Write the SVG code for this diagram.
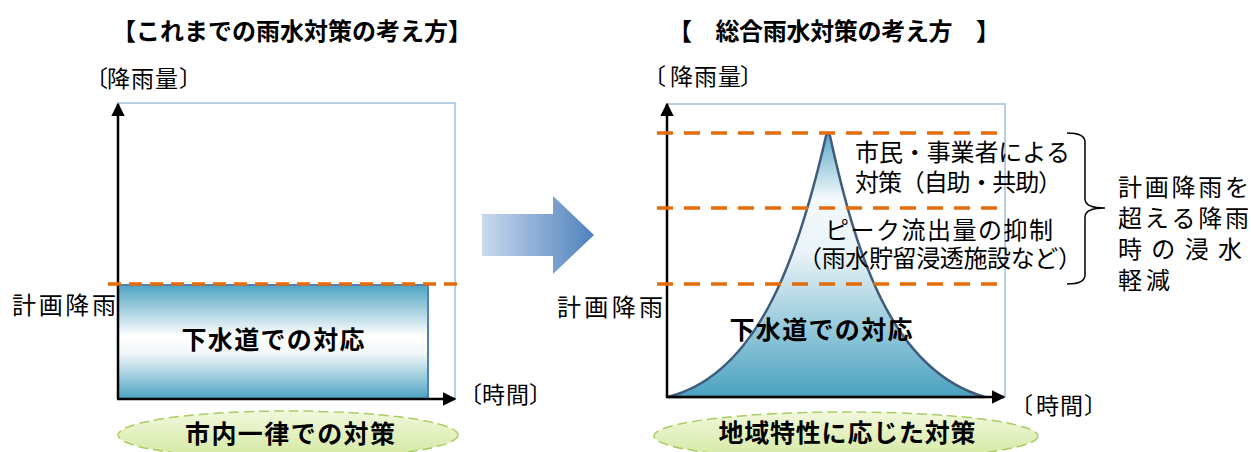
<svg xmlns="http://www.w3.org/2000/svg" width="1251" height="452" viewBox="0 0 1251 452">
<style>
text{font-family:"Liberation Sans","Noto Sans CJK JP",sans-serif;fill:#000;text-spacing-trim:space-all;font-kerning:none;font-feature-settings:"halt" 0,"chws" 0}
.t{font-size:24px;font-weight:bold}
.n{font-size:24px}
.s{font-size:23px}
.b{font-size:25px;font-weight:bold}
.frame{fill:none;stroke:#b9cde5;stroke-width:2}
.axis{stroke:#000;stroke-width:2.5;fill:none}
.dash{stroke:#e46c0a;stroke-width:3.5;fill:none}
.ell{fill:url(#gGreen);stroke:#a9cd62;stroke-width:1.5;stroke-dasharray:10 5}
</style>
<defs>
<linearGradient id="gBox" x1="0" y1="0" x2="0" y2="1">
<stop offset="0" stop-color="#4fa4c2"/>
<stop offset="0.45" stop-color="#ffffff"/>
<stop offset="0.6" stop-color="#f2f7fa"/>
<stop offset="1" stop-color="#4aa2c0"/>
</linearGradient>
<linearGradient id="gPeak" x1="0" y1="133" x2="0" y2="397" gradientUnits="userSpaceOnUse">
<stop offset="0" stop-color="#5aa9c8"/>
<stop offset="0.25" stop-color="#f4f9fc"/>
<stop offset="0.45" stop-color="#eaf4f8"/>
<stop offset="1" stop-color="#4aa2c0"/>
</linearGradient>
<linearGradient id="gArrow" x1="0" y1="0" x2="1" y2="0">
<stop offset="0" stop-color="#c9d9ee"/>
<stop offset="1" stop-color="#4f81bd"/>
</linearGradient>
<linearGradient id="gGreen" x1="0" y1="0" x2="0" y2="1">
<stop offset="0" stop-color="#f1f8dc"/>
<stop offset="1" stop-color="#d3e8a0"/>
</linearGradient>
<marker id="ah" viewBox="0 0 10 10" refX="9" refY="5" markerWidth="5.5" markerHeight="5.5" orient="auto" markerUnits="strokeWidth">
<path d="M0,0 L10,5 L0,10 z" fill="#000"/>
</marker>
</defs>

<g id="titles">
<text class="t" x="112" y="40" textLength="360">【これまでの雨水対策の考え方】</text>
<text class="t" x="668" y="40" textLength="332">【　総合雨水対策の考え方　】</text>
</g>

<g id="left-panel">
<text class="s" x="85 107 131 155 179" y="87">〔降雨量〕</text>
<rect class="frame" x="118" y="103" width="337" height="296"/>
<rect x="118" y="285" width="310" height="114" fill="url(#gBox)" stroke="#4f81bd" stroke-width="2"/>
<text class="b" x="273" y="349" text-anchor="middle" textLength="183">下水道での対応</text>
<text class="n" x="12" y="314" textLength="104">計画降雨</text>
<text class="s" x="459 482 506 529" y="403">〔時間〕</text>
</g>

<g id="right-panel">
<text class="s" x="643 670 694 718 740" y="85">〔降雨量〕</text>
<rect class="frame" x="667" y="104" width="338" height="293"/>
<path id="peak" d="M667,397 C760,375 800,250 826,136 Q828,131 830,136 C855,250 890,370 985,397 Z" fill="url(#gPeak)" stroke="#3f5c7c" stroke-width="2.5"/>
<text class="b" x="821" y="339" text-anchor="middle" textLength="183">下水道での対応</text>
<text class="n" x="557" y="316" textLength="106">計画降雨</text>
<text class="s" x="1010 1036 1060 1084" y="414">〔時間〕</text>
<text class="n" x="855" y="161" textLength="215">市民・事業者による</text>
<text class="n" x="855" y="191" textLength="207">対策（自助・共助）</text>
<text class="n" x="825" y="239" textLength="228">ピーク流出量の抑制</text>
<text class="n" x="798" y="267" textLength="284">（雨水貯留浸透施設など）</text>
<text class="n" x="1118" y="196" textLength="131">計画降雨を</text>
<text class="n" x="1118" y="227" textLength="131">超える降雨</text>
<text class="n" x="1118" y="258" textLength="124">時 の 浸 水</text>
<text class="n" x="1118" y="289" textLength="52">軽減</text>
</g>

<g id="connectors">
<line class="axis" x1="118" y1="399" x2="118" y2="104" marker-end="url(#ah)"/>
<line class="axis" x1="117" y1="399" x2="455" y2="399" marker-end="url(#ah)"/>
<line class="axis" x1="667" y1="398" x2="667" y2="104" marker-end="url(#ah)"/>
<line class="axis" x1="666" y1="397" x2="1004" y2="397" marker-end="url(#ah)"/>
<line class="dash" x1="108" y1="284" x2="457" y2="284" stroke-dasharray="13 8"/>
<line class="dash" x1="657" y1="133" x2="1005" y2="133" stroke-dasharray="16 11"/>
<line class="dash" x1="657" y1="208" x2="1005" y2="208" stroke-dasharray="16 11"/>
<line class="dash" x1="657" y1="284" x2="1005" y2="284" stroke-dasharray="16 11"/>
<path d="M1067,133 Q1085,133 1085,142 L1085,199 Q1085,208 1105,208 Q1085,208 1085,217 L1085,275 Q1085,284 1067,284" fill="none" stroke="#000" stroke-width="1.5"/>
</g>

<g id="transition-arrow">
<polygon points="482,214 553,214 553,196 594,235 553,274 553,256 482,256" fill="url(#gArrow)"/>
</g>

<g id="left-ellipse">
<ellipse class="ell" cx="288" cy="435" rx="170" ry="24"/>
<text class="b" x="290" y="443" text-anchor="middle" textLength="210">市内一律での対策</text>
</g>

<g id="right-ellipse">
<ellipse class="ell" cx="846" cy="436" rx="192" ry="24"/>
<text class="b" x="847" y="442" text-anchor="middle" textLength="257">地域特性に応じた対策</text>
</g>
</svg>
